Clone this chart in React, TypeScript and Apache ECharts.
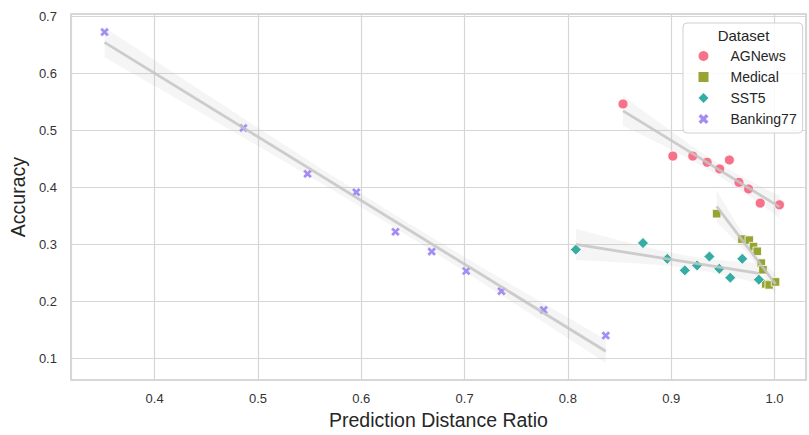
import React, { useEffect, useRef } from 'react';
import * as echarts from 'echarts';

const seriesNames = ['AGNews', 'Medical', 'SST5', 'Banking77'];
const colors = ['#f77189', '#97a431', '#36ada4', '#a48cf4'];

const agnewsX = [0.8534, 0.9016, 0.9209, 0.9348, 0.9469, 0.9563, 0.9656, 0.9749, 0.9862, 1.0048];
const agnewsY = [0.5467, 0.4552, 0.4552, 0.4443, 0.4326, 0.4483, 0.409, 0.3974, 0.3726, 0.3696];

const medicalX = [0.944, 0.9685, 0.9756, 0.9797, 0.9833, 0.9872, 0.9888, 0.9915, 0.9949, 1.001];
const medicalY = [0.354, 0.3094, 0.3076, 0.2962, 0.288, 0.2672, 0.2556, 0.2307, 0.229, 0.2342];

const sst5X = [0.8077, 0.8727, 0.8962, 0.9132, 0.9251, 0.937, 0.9466, 0.9572, 0.9688, 0.9849];
const sst5Y = [0.291, 0.3024, 0.2747, 0.2545, 0.2632, 0.2788, 0.2573, 0.2417, 0.2747, 0.2382];

const bankingX = [0.3515, 0.4859, 0.548, 0.5952, 0.6331, 0.6682, 0.7016, 0.7357, 0.7766, 0.8367];
const bankingY = [0.673, 0.5045, 0.424, 0.3917, 0.3222, 0.2875, 0.2533, 0.218, 0.185, 0.14];

const X_SYMBOL = 'path://M0,2.4L2.4,0L5,2.6L7.6,0L10,2.4L7.4,5L10,7.6L7.6,10L5,7.4L2.4,10L0,7.6L2.6,5Z';
const symbols = ['circle', 'rect', 'diamond', X_SYMBOL];
const sizes = [10, 8.5, 11, 9];

function fit(xs: number[], ys: number[]) {
  const n = xs.length;
  const mx = xs.reduce((a, b) => a + b, 0) / n;
  const my = ys.reduce((a, b) => a + b, 0) / n;
  let sxx = 0, sxy = 0;
  for (let i = 0; i < n; i++) {
    sxx += (xs[i] - mx) ** 2;
    sxy += (xs[i] - mx) * (ys[i] - my);
  }
  const b = sxy / sxx;
  const a = my - b * mx;
  let sse = 0;
  for (let i = 0; i < n; i++) sse += (ys[i] - a - b * xs[i]) ** 2;
  const s = Math.sqrt(sse / (n - 2));
  const t = 2.306;
  const xmin = Math.min(...xs);
  const xmax = Math.max(...xs);
  const upper: number[][] = [];
  const lower: number[][] = [];
  const steps = 40;
  for (let k = 0; k <= steps; k++) {
    const x = xmin + ((xmax - xmin) * k) / steps;
    const yh = a + b * x;
    const se = s * Math.sqrt(1 / n + (x - mx) ** 2 / sxx);
    upper.push([x, yh + t * se]);
    lower.push([x, yh - t * se]);
  }
  const band = upper.concat(lower.reverse());
  return { a, b, xmin, xmax, band };
}

export default function App() {
  const ref = useRef<HTMLDivElement>(null);
  useEffect(() => {
    const chart = echarts.init(ref.current!, null, { renderer: 'svg' });
    const datasets = [
      { name: seriesNames[0], xs: agnewsX, ys: agnewsY },
      { name: seriesNames[1], xs: medicalX, ys: medicalY },
      { name: seriesNames[2], xs: sst5X, ys: sst5Y },
      { name: seriesNames[3], xs: bankingX, ys: bankingY },
    ];
    const series: any[] = [];
    datasets.forEach((d, i) => {
      const f = fit(d.xs, d.ys);
      series.push({
        type: 'custom',
        name: d.name + ' CI',
        silent: true,
        z: 1,
        data: [[f.xmin, f.a + f.b * f.xmin]],
        renderItem: (_params: any, api: any) => ({
          type: 'polygon',
          shape: { points: f.band.map((p) => api.coord(p)) },
          style: { fill: 'rgba(190,190,190,0.16)' },
        }),
      });
      series.push({
        type: 'scatter',
        name: d.name,
        data: d.xs.map((x, k) => [x, d.ys[k]]),
        symbol: symbols[i],
        symbolSize: sizes[i],
        itemStyle: { color: colors[i], borderColor: '#ffffff', borderWidth: i === 3 ? 0.4 : 0.8, opacity: 1 },
        z: 3,
      });
      series.push({
        type: 'line',
        name: d.name + ' fit',
        data: [
          [f.xmin, f.a + f.b * f.xmin],
          [f.xmax, f.a + f.b * f.xmax],
        ],
        symbol: 'none',
        silent: true,
        lineStyle: { color: '#c4c4c4', width: 2.8, opacity: 0.85 },
        z: 4,
      });
    });

    chart.setOption({
      animation: false,
      textStyle: { fontFamily: 'Liberation Sans, Arial, sans-serif' },
      grid: {
        left: 68,
        right: 3,
        top: 14,
        bottom: 50.7,
        show: true,
        borderColor: '#cccccc',
        borderWidth: 1.5,
        backgroundColor: '#ffffff',
      },
      xAxis: {
        type: 'value',
        min: 0.319,
        max: 1.0305,
        minInterval: 0.1,
        maxInterval: 0.1,
        axisLine: { show: false },
        axisTick: { show: false },
        splitLine: { show: true, lineStyle: { color: '#d6d6d6', width: 1.2 } },
        axisLabel: {
          showMinLabel: false,
          showMaxLabel: false,
          margin: 12,
          fontSize: 13,
          color: '#333333',
          formatter: (v: number) => v.toFixed(1),
        },
        name: 'Prediction Distance Ratio',
        nameLocation: 'middle',
        nameGap: 28,
        nameTextStyle: { fontSize: 19.5, color: '#262626' },
      },
      yAxis: {
        type: 'value',
        min: 0.0618,
        max: 0.7047,
        minInterval: 0.1,
        maxInterval: 0.1,
        axisLine: { show: false },
        axisTick: { show: false },
        splitLine: { show: true, lineStyle: { color: '#d6d6d6', width: 1.2 } },
        axisLabel: {
          showMinLabel: false,
          showMaxLabel: false,
          margin: 14,
          fontSize: 13,
          color: '#333333',
          formatter: (v: number) => v.toFixed(1),
        },
        name: 'Accuracy',
        nameLocation: 'middle',
        nameGap: 37,
        nameRotate: 90,
        nameTextStyle: { fontSize: 19.5, color: '#262626' },
      },
      legend: {
        data: seriesNames,
        orient: 'vertical',
        left: 683,
        top: 23,
        padding: [23, 6, 4, 15.5],
        itemWidth: 10,
        itemHeight: 10,
        itemGap: 1,
        itemStyle: { borderWidth: 0 },
        backgroundColor: 'rgba(255,255,255,0.85)',
        borderColor: '#d0d0d0',
        borderWidth: 1,
        borderRadius: 4,
        textStyle: { fontSize: 14, color: '#262626', lineHeight: 20, padding: [0, 0, 0, 17] },
      },
      graphic: [
        {
          type: 'text',
          z: 100,
          x: 743.5,
          y: 35,
          style: {
            text: 'Dataset',
            fontSize: 15,
            fill: '#262626',
            fontFamily: 'Liberation Sans, Arial, sans-serif',
            textAlign: 'center',
            textVerticalAlign: 'middle',
          },
        },
      ],
      series,
    });
    return () => chart.dispose();
  }, []);
  return (
    <div
      ref={ref}
      style={{ position: 'fixed', left: 0, top: 0, width: 809, height: 435, background: '#fff' }}
    />
  );
}
